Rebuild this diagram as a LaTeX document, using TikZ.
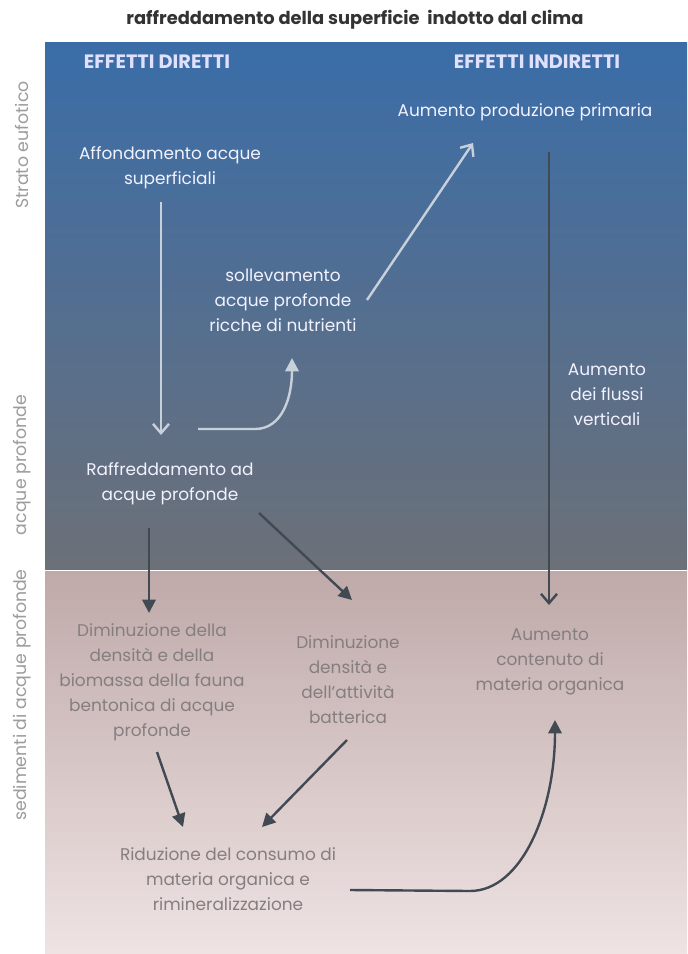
\documentclass[tikz,border=0pt]{standalone}
\usepackage{fontspec}
\setmainfont{Poppins}
\usetikzlibrary{arrows.meta,calc}
\definecolor{upA}{HTML}{3A6DA8}
\definecolor{upB}{HTML}{58769A}
\definecolor{upC}{HTML}{6C7078}
\definecolor{loA}{HTML}{BFA9A9}
\definecolor{loB}{HTML}{D8C8C8}
\definecolor{loC}{HTML}{EFE3E3}
\definecolor{litegray}{HTML}{C8D0DB}
\definecolor{darkgray}{HTML}{414953}
\definecolor{lowtext}{HTML}{857E7F}
\definecolor{sidetext}{HTML}{9C9C9C}
\begin{document}
\begin{tikzpicture}[x=0.75pt,y=-0.75pt,
    font=\fontsize{12.7pt}{18.75pt}\selectfont,
    up/.style={align=center,text=white!95!blue,inner sep=0pt},
    low/.style={align=center,text=lowtext,inner sep=0pt},
    head/.style={text=white!88!blue,font=\bfseries\fontsize{14.5pt}{16pt}\selectfont,inner sep=0pt},
    side/.style={rotate=90,text=sidetext,font=\fontsize{13pt}{14pt}\selectfont,inner sep=0pt},
    lite/.style={draw=litegray,line width=1.8pt},
    dark/.style={draw=darkgray,line width=1.8pt},
    vee/.style={-{Straight Barb[length=7pt,width=12pt,line width=1.8pt]}},
    tri/.style={-{Triangle[length=10pt,width=10pt]}}]
  \useasboundingbox (0,0) rectangle (687,954);
  \fill[white] (0,0) rectangle (687,954);
  \shade[top color=upA,middle color=upB,bottom color=upC] (45,42) rectangle (687,569);
  \shade[top color=loA,middle color=loB,bottom color=loC] (45,571) rectangle (687,954);

  \node[text=black!80,font=\bfseries\fontsize{13.4pt}{15pt}\selectfont] (title) at (355,20) {raffreddamento della superficie\ \ indotto dal clima};
  \node[head] (hdir) at (157,62) {EFFETTI DIRETTI};
  \node[head] (hind) at (537,62) {EFFETTI INDIRETTI};
  \node[side] (sstrato) at (22,145) {Strato eufotico};
  \node[side] (sacque) at (22,465) {acque profonde};
  \node[side] (ssedim) at (22,695) {sedimenti di acque profonde};

  \node[up] (prim) at (525,112) {Aumento produzione primaria};
  \node[up] (affond) at (170,168) {Affondamento acque\\superficiali};
  \node[up] (solle) at (283,300) {sollevamento\\acque profonde\\ricche di nutrienti};
  \node[up] (flussi) at (607,395) {Aumento\\dei flussi\\verticali};
  \node[up] (raffr) at (170,484) {Raffreddamento ad\\acque profonde};
  \node[low] (fauna) at (152,682) {Diminuzione della\\densità e della\\biomassa della fauna\\bentonica di acque\\profonde};
  \node[low] (batt) at (348,680) {Diminuzione\\densità e\\dell’attività\\batterica};
  \node[low] (conten) at (550,662) {Aumento\\contenuto di\\materia organica};
  \node[low] (riduz) at (228,879) {Riduzione del consumo di\\materia organica e\\rimineralizzazione};

  \draw[lite,vee] ($(affond.center)+(-9,34)$) -- ($(raffr.center)+(-9,-49)$);
  \draw[lite,tri] ($(raffr.center)+(28,-55)$) -- ($(raffr.center)+(85,-55)$)
    .. controls +(28,0) and +(0,38) .. ($(solle.center)+(9,58)$);
  \draw[lite,vee] ($(solle.center)+(84,0)$) -- ($(prim.center)+(-52,31)$);
  \draw[dark,vee] ($(prim.center)+(24,40)$) -- ($(conten.center)+(-1,-57)$);
  \draw[dark,tri] ($(raffr.center)+(-21,44)$) -- ($(fauna.center)+(-3,-69)$);
  \draw[dark,tri] ($(raffr.center)+(89,29)$) -- ($(batt.center)+(4,-80)$);
  \draw[dark,tri] ($(fauna.center)+(5,70)$) -- ($(riduz.center)+(-45,-52)$);
  \draw[dark,tri] ($(batt.center)+(-1,60)$) -- ($(riduz.center)+(34,-52)$);
  \draw[dark,tri] ($(riduz.center)+(122,11)$) -- ($(riduz.center)+(242,12)$)
    .. controls +(52,0) and +(0,90) .. ($(conten.center)+(5,58)$);
\end{tikzpicture}
\end{document}
